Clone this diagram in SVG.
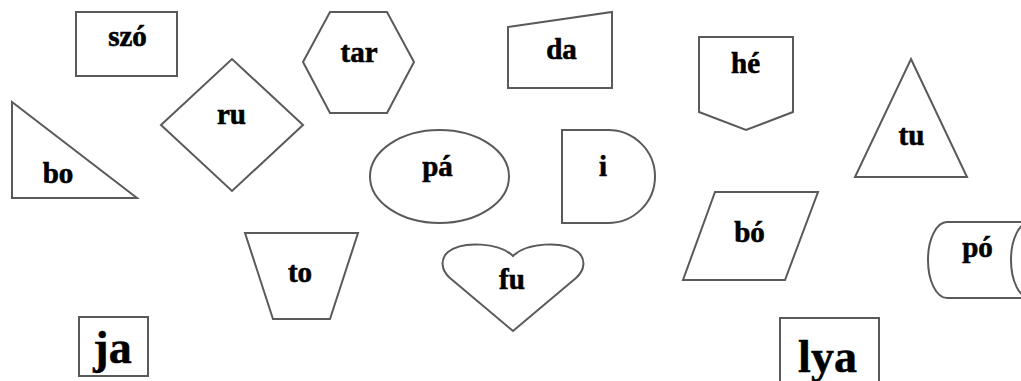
<svg xmlns="http://www.w3.org/2000/svg" width="1021" height="381" viewBox="0 0 1021 381">
<style>
.s{fill:#fff;stroke:#5a5a5a;stroke-width:2;stroke-linejoin:miter}
.t{font-family:"Liberation Serif","Times New Roman",serif;font-weight:bold;font-size:29px;fill:#000;stroke:#000;stroke-width:0.6;text-anchor:middle}
.b{font-size:46px;stroke-width:0.5}
</style>
<rect width="1021" height="381" fill="#fff"/>
<g id="connectors"/>
<g id="szo"><rect class="s" x="76" y="12" width="101" height="64"/><text class="t" x="127.5" y="46">szó</text></g>
<g id="bo"><polygon class="s" points="12,102 12,198 137,198"/><text class="t" x="58" y="183">bo</text></g>
<g id="ru"><polygon class="s" points="161,125 232,59 303,125 232,191"/><text class="t" x="231.5" y="124">ru</text></g>
<g id="tar"><polygon class="s" points="303,62 330,12 387,12 414,62 387,113 330,113"/><text class="t" x="359" y="62">tar</text></g>
<g id="da"><polygon class="s" points="508,27 612,12 612,88 508,88"/><text class="t" x="561.5" y="59">da</text></g>
<g id="pa"><ellipse class="s" cx="439.5" cy="176.5" rx="69.5" ry="46.5"/><text class="t" x="437.5" y="176">pá</text></g>
<g id="i"><path class="s" d="M562,130 H608 A47,46.5 0 0 1 608,223 H562 Z"/><text class="t" x="603" y="176">i</text></g>
<g id="he"><polygon class="s" points="699,37 793,37 793,112 746,130 699,112"/><text class="t" x="745.5" y="73">hé</text></g>
<g id="tu"><polygon class="s" points="911,59 967,177 855,177"/><text class="t" x="911.5" y="145">tu</text></g>
<g id="to"><polygon class="s" points="245,233 358,233 330,319 273,319"/><text class="t" x="300" y="282">to</text></g>
<g id="fu"><path class="s" d="M513,256 C500,243 463,240 448,252 C440,259 441,270 450,278 L513,331 L576,278 C585,270 586,259 578,252 C563,240 526,243 513,256 Z"/><text class="t" x="512" y="289">fu</text></g>
<g id="bo2"><polygon class="s" points="715,192 818,192 785,280 683,280"/><text class="t" x="749.5" y="242">bó</text></g>
<g id="po"><path class="s" d="M947,222 H1030 A19,38 0 0 0 1030,298 H947 A19,38 0 0 1 947,222 Z"/><text class="t" x="977.5" y="257">pó</text></g>
<g id="ja"><rect class="s" x="79" y="317" width="69" height="59"/><text class="t b" x="112.5" y="363">ja</text></g>
<g id="lya"><rect class="s" x="780" y="318" width="99" height="70"/><text class="t b" x="827.5" y="372">lya</text></g>
</svg>
